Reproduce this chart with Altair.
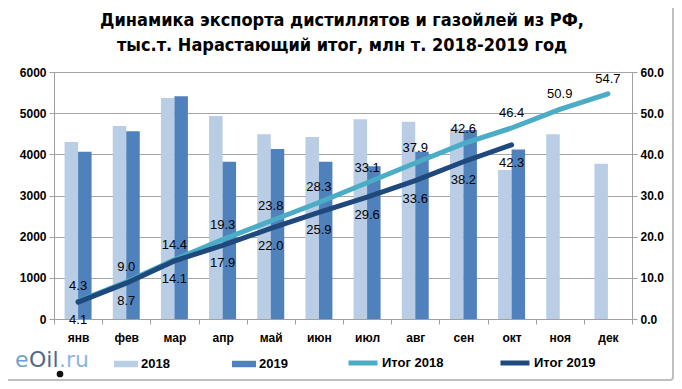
import altair as alt
import pandas as pd

months = ["янв", "фев", "мар", "апр", "май", "июн", "июл", "авг", "сен", "окт", "ноя", "дек"]
exp_2018 = [4300, 4690, 5370, 4930, 4490, 4420, 4850, 4790, 4630, 3620, 4490, 3770]
exp_2019 = [4060, 4560, 5410, 3820, 4130, 3820, 3710, 4060, 4590, 4120]
cum_2018 = [4.3, 9.0, 14.4, 19.3, 23.8, 28.3, 33.1, 37.9, 42.6, 46.4, 50.9, 54.7]
cum_2019 = [4.1, 8.7, 14.1, 17.9, 22.0, 25.9, 29.6, 33.6, 38.2, 42.3]

bar_series = ["2018", "2019"]
line_series = ["Итог 2018", "Итог 2019"]
bar_colors = ["#B9CDE5", "#4F81BD"]
line_colors = ["#4BACC6", "#1F497D"]

title_lines = ["Динамика экспорта дистиллятов и газойлей из РФ,",
               "тыс.т. Нарастающий итог, млн т. 2018-2019 год"]

bars_df = pd.DataFrame(
    [{"month": m, "series": "2018", "value": v} for m, v in zip(months, exp_2018)]
    + [{"month": m, "series": "2019", "value": v} for m, v in zip(months, exp_2019)]
)
lines_df = pd.DataFrame(
    [{"month": m, "series": "Итог 2018", "value": v} for m, v in zip(months, cum_2018)]
    + [{"month": m, "series": "Итог 2019", "value": v} for m, v in zip(months, cum_2019)]
)

FONT = "Liberation Sans"
TITLE_FONT = "'Liberation Sans Narrow', 'DejaVu Sans Condensed', 'Liberation Sans'"
W, H = 578, 247

x_enc = alt.X(
    "month:N",
    sort=months,
    scale=alt.Scale(paddingInner=0, paddingOuter=0),
    axis=alt.Axis(
        title=None, labelAngle=0, tickBand="extent", domainColor="#A0A0A0",
        tickColor="#A0A0A0", tickSize=5, labelFont=FONT, labelFontSize=12,
        labelFontWeight="bold", labelColor="#000000", labelPadding=8, grid=False,
    ),
)

bars = alt.Chart(bars_df).mark_bar().encode(
    x=x_enc,
    xOffset=alt.XOffset("series:N", sort=bar_series,
                        scale=alt.Scale(paddingInner=0, paddingOuter=0.785)),
    y=alt.Y(
        "value:Q",
        scale=alt.Scale(domain=[0, 6000], nice=False),
        axis=alt.Axis(
            title=None, orient="left", values=[0, 1000, 2000, 3000, 4000, 5000, 6000],
            format="d", grid=True, gridColor="#A6A6A6", domainColor="#A0A0A0",
            tickColor="#A0A0A0", tickSize=5, labelFont=FONT, labelFontSize=12,
            labelFontWeight="bold", labelColor="#000000", labelPadding=3,
        ),
    ),
    color=alt.Color(
        "series:N",
        scale=alt.Scale(domain=bar_series, range=bar_colors),
        legend=alt.Legend(
            title=None, orient="none", legendX=60, legendY=280, direction="horizontal",
            symbolType="M-1,-0.27H1V0.27H-1Z", symbolSize=576, symbolStrokeWidth=0,
            labelFont=FONT, labelFontSize=13, labelFontWeight="bold", labelColor="#000000",
            columnPadding=62, labelOffset=3,
        ),
    ),
)

y_line = alt.Y(
    "value:Q",
    scale=alt.Scale(domain=[0, 60], nice=False),
    axis=alt.Axis(
        title=None, orient="right", values=[0, 10, 20, 30, 40, 50, 60], format=".1f",
        grid=False, domainColor="#A0A0A0", tickColor="#A0A0A0", tickSize=5,
        labelFont=FONT, labelFontSize=12, labelFontWeight="bold",
        labelColor="#000000", labelPadding=3,
    ),
)

lines = alt.Chart(lines_df).mark_line(strokeWidth=5, strokeCap="round").encode(
    x=alt.X("month:N", sort=months),
    y=y_line,
    stroke=alt.Stroke(
        "series:N",
        scale=alt.Scale(domain=line_series, range=line_colors),
        legend=alt.Legend(
            title=None, orient="none", legendX=292, legendY=274, direction="horizontal",
            symbolType="stroke", symbolSize=841, symbolStrokeWidth=5,
            labelFont=FONT, labelFontSize=13, labelFontWeight="bold", labelColor="#000000",
            columnPadding=46, labelOffset=2,
        ),
    ),
)

labels_2018 = alt.Chart(lines_df).transform_filter(
    alt.datum.series == "Итог 2018"
).mark_text(font=FONT, fontSize=13, color="#000000", dy=-15, baseline="middle").encode(
    x=alt.X("month:N", sort=months),
    y=alt.Y("value:Q"),
    text=alt.Text("value:Q", format=".1f"),
)
labels_2019 = alt.Chart(lines_df).transform_filter(
    alt.datum.series == "Итог 2019"
).mark_text(font=FONT, fontSize=13, color="#000000", dy=18, baseline="middle").encode(
    x=alt.X("month:N", sort=months),
    y=alt.Y("value:Q"),
    text=alt.Text("value:Q", format=".1f"),
)

border = alt.Chart(pd.DataFrame({"k": [0]})).mark_rect(
    fill="#FFFFFF", fillOpacity=0, stroke="#BFBFBF", strokeWidth=2, cornerRadius=3
).encode(
    x=alt.value(-50), x2=alt.value(619), y=alt.value(-68), y2=alt.value(308)
)

title1 = alt.Chart(pd.DataFrame({"t": [title_lines[0]]})).mark_text(
    font=TITLE_FONT, fontSize=18, fontWeight="bold", color="#000000",
    align="center", baseline="middle"
).encode(text="t:N", x=alt.value(288), y=alt.value(-51))
title2 = alt.Chart(pd.DataFrame({"t": [title_lines[1]]})).mark_text(
    font=TITLE_FONT, fontSize=18, fontWeight="bold", color="#000000",
    align="center", baseline="middle"
).encode(text="t:N", x=alt.value(288), y=alt.value(-26))

LOGO_FONT = "DejaVu Sans"
logo_e = alt.Chart(pd.DataFrame({"t": ["e"]})).mark_text(
    font=LOGO_FONT, fontSize=22, color="#6FA0D2", align="left", baseline="alphabetic"
).encode(text="t:N", x=alt.value(-39), y=alt.value(295))
logo_oil = alt.Chart(pd.DataFrame({"t": ["Oil"]})).mark_text(
    font=LOGO_FONT, fontSize=22, color="#4F6A88", align="left", baseline="alphabetic"
).encode(text="t:N", x=alt.value(-25), y=alt.value(295))
logo_ru = alt.Chart(pd.DataFrame({"t": [".ru"]})).mark_text(
    font=LOGO_FONT, fontSize=22, color="#8DB6E0", align="left", baseline="alphabetic"
).encode(text="t:N", x=alt.value(5), y=alt.value(295))
logo_drop = alt.Chart(pd.DataFrame({"k": [0]})).mark_point(
    shape="circle", filled=True, color="#111111", size=45, opacity=1
).encode(x=alt.value(6), y=alt.value(302))

line_layer = alt.layer(lines, labels_2018, labels_2019)

chart = alt.layer(
    border, bars, line_layer, title1, title2, logo_e, logo_oil, logo_ru, logo_drop
).resolve_scale(
    y="independent", color="independent", stroke="independent"
).properties(
    width=W, height=H,
    padding={"left": 46, "top": 64, "right": 42, "bottom": 62},
    autosize=alt.AutoSizeParams(type="none"),
).configure_view(stroke=None).configure(background="#FFFFFF")

chart.save("out.html", embed_options={"renderer": "svg", "actions": False})
